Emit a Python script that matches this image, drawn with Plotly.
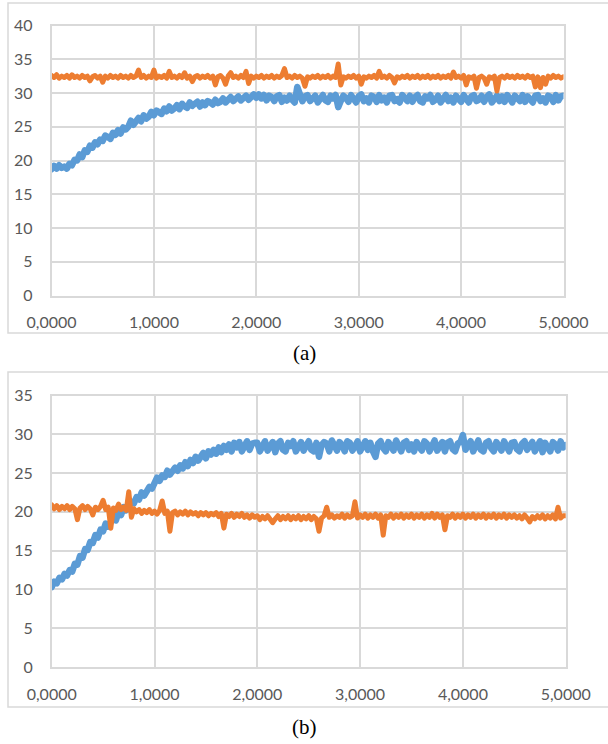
import plotly.graph_objects as go

# sample positions (time axis)
x_step = 0.025
x_vals = [round(i * x_step, 4) for i in range(201)]

# chart (a)
a_blue = [
    18.7,19.2,18.8,19.3,18.9,19.1,18.8,19.5,19.3,20.1,20.0,20.9,20.5,21.5,21.3,22.2,21.9,22.7,22.4,23.1,
    22.9,23.7,23.5,23.2,24.1,23.8,24.5,24.0,24.9,24.6,25.0,25.9,25.3,25.8,26.3,25.8,26.7,26.2,26.5,27.2,
    26.7,27.4,27.2,26.9,27.7,27.3,28.0,27.4,27.7,28.2,27.6,28.4,28.0,27.8,28.6,28.1,28.4,28.7,28.0,28.6,
    28.2,28.8,28.6,28.3,29.0,28.5,28.7,29.2,28.6,29.0,29.4,28.8,29.1,29.5,28.9,29.3,29.6,29.0,29.4,29.8,
    29.3,29.8,29.2,29.7,28.9,29.6,29.4,28.8,29.5,29.7,28.7,29.3,28.9,29.6,29.0,28.6,30.9,29.4,28.8,29.5,
    29.7,28.8,29.1,29.6,28.6,29.4,29.7,28.9,28.7,29.6,29.2,29.7,27.9,28.8,29.6,29.3,28.7,29.7,29.0,28.6,
    29.5,29.8,28.8,29.2,28.6,29.6,29.4,28.7,29.7,28.9,29.3,28.6,29.6,29.7,28.8,29.1,28.6,29.7,29.3,28.8,
    29.6,28.7,29.4,29.7,28.8,28.6,29.5,29.2,29.7,28.7,29.0,29.6,28.6,29.4,29.7,28.8,29.3,28.6,29.6,29.1,
    28.7,29.7,29.2,28.6,29.5,29.7,28.8,29.0,29.6,28.7,29.4,29.8,28.6,29.1,29.6,28.8,29.5,28.7,29.7,29.2,
    28.6,29.6,29.3,28.8,29.7,28.7,29.5,29.1,28.6,29.6,29.7,28.8,29.2,28.6,29.6,29.4,28.7,29.7,28.9,29.5,
    29.6,
]
a_orange = [
    32.6,32.3,32.7,32.2,32.5,32.3,32.6,32.2,32.7,32.3,32.5,32.2,32.6,32.3,32.5,31.8,32.4,32.6,32.2,32.5,
    31.6,32.5,32.2,32.6,32.3,32.5,32.2,32.6,32.3,32.5,32.2,32.6,32.3,32.5,33.4,32.3,32.6,32.2,32.5,32.3,
    33.4,32.2,32.5,32.3,32.6,32.2,33.2,32.3,32.5,32.2,32.6,32.3,33.0,32.2,32.5,31.7,32.4,32.6,32.2,32.5,
    32.3,32.6,32.2,32.5,31.2,32.4,32.6,32.2,31.3,32.5,33.0,32.3,32.5,32.2,32.6,32.3,33.2,31.4,32.5,32.2,
    32.5,32.3,32.6,32.2,32.5,32.3,32.6,32.2,32.5,32.3,32.6,33.6,32.3,32.5,32.2,32.6,32.3,32.5,32.2,31.0,
    32.4,32.2,32.5,32.3,32.6,32.2,32.5,32.3,32.6,32.2,32.5,32.3,34.3,31.2,32.4,32.2,32.5,32.3,32.6,32.2,
    32.5,31.3,32.4,32.2,32.5,32.3,32.6,32.2,33.2,32.3,32.5,32.2,32.6,32.3,31.5,32.4,32.2,32.5,32.3,32.6,
    32.2,32.5,32.3,32.6,32.2,32.5,32.3,32.6,32.2,32.5,32.3,32.6,32.2,32.5,32.3,32.6,32.2,33.1,32.3,32.5,
    32.2,32.6,31.2,32.4,32.2,32.5,30.7,32.3,32.5,32.2,31.3,32.4,32.2,32.5,30.3,32.3,32.5,32.2,32.6,32.3,
    32.5,32.2,32.6,32.3,32.5,32.2,32.6,32.3,32.5,30.9,32.4,30.8,32.3,31.3,32.5,32.2,32.6,32.3,32.5,32.2,
    32.4,
]

# chart (b)
b_blue = [
    10.3,11.0,10.8,11.5,11.3,12.0,11.8,12.5,12.3,13.3,13.2,14.3,14.1,15.2,15.1,16.1,16.0,17.0,16.7,17.7,
    17.5,18.5,18.1,18.9,19.3,18.9,20.0,19.6,20.6,20.2,20.7,21.3,21.1,21.9,21.6,22.5,22.1,22.9,23.2,23.0,
    23.6,24.4,24.0,24.7,24.5,25.3,24.8,25.2,25.7,25.3,26.0,25.6,26.4,25.9,26.7,26.3,27.1,26.6,27.2,27.6,
    26.9,27.8,27.4,28.0,27.5,28.3,27.7,28.5,28.0,28.7,27.8,28.9,28.3,29.0,27.8,28.6,29.1,28.0,28.8,28.9,
    28.9,27.8,28.6,29.1,27.9,28.4,29.0,27.7,28.8,29.1,28.0,27.8,28.9,28.5,29.1,27.8,28.3,29.0,27.9,28.7,
    29.1,28.0,27.8,28.9,27.1,28.6,29.0,28.8,27.8,29.2,28.3,27.9,29.0,28.6,27.8,29.1,28.9,27.9,28.4,29.1,
    27.8,28.7,29.1,28.0,28.9,27.8,27.1,28.8,29.1,28.2,27.8,29.0,28.6,27.9,29.2,28.4,27.8,28.9,29.1,28.0,
    28.7,27.8,29.0,28.4,27.9,29.1,28.8,27.8,28.5,29.2,27.9,28.6,29.0,27.8,28.9,29.1,28.1,27.8,28.8,29.0,
    29.9,28.0,28.7,29.1,27.8,28.5,29.2,28.0,27.8,28.9,29.1,28.2,27.8,29.0,28.6,27.9,29.1,28.4,27.8,28.9,
    29.0,28.1,27.8,28.8,29.1,28.0,28.6,29.0,27.8,28.4,29.1,27.7,28.9,28.3,27.8,29.0,28.7,27.9,29.1,28.3,
    28.6,
]
b_orange = [
    20.9,20.4,20.8,20.3,20.7,20.4,20.8,20.3,20.7,20.4,19.0,20.5,20.8,20.3,20.7,20.4,19.6,20.6,20.3,20.7,
    21.5,20.3,20.6,17.9,20.5,20.2,21.0,20.3,20.6,20.2,22.6,19.3,20.4,20.0,20.3,19.8,20.2,19.9,20.3,19.8,
    20.1,19.7,20.2,21.4,19.8,20.1,17.5,19.9,20.1,19.6,20.0,19.7,20.1,19.6,20.0,19.7,19.9,19.5,19.9,19.6,
    19.9,19.5,19.8,19.6,19.9,19.4,19.8,17.9,19.7,19.4,19.8,19.3,19.7,19.4,19.8,19.3,19.6,19.2,19.6,19.3,
    19.5,19.0,19.4,19.1,19.5,19.0,18.6,19.1,19.5,19.0,19.4,19.1,19.5,19.0,19.4,19.1,19.5,19.0,19.4,19.1,
    19.5,19.0,19.4,19.1,17.5,19.2,19.5,20.6,19.3,19.6,19.2,19.5,19.3,19.7,19.2,19.6,19.3,19.5,21.3,19.2,
    19.6,19.3,19.7,19.2,19.6,19.3,19.7,19.2,19.6,17.0,19.5,19.3,19.7,19.2,19.6,19.3,19.7,19.2,19.6,19.3,
    19.7,19.2,19.6,19.3,19.7,19.2,19.6,19.3,19.8,19.2,19.7,19.3,19.6,17.7,19.5,19.3,19.7,19.2,19.6,19.3,
    19.7,19.2,19.6,19.3,19.7,19.2,19.6,19.3,19.7,19.2,19.6,19.3,19.7,19.2,19.6,19.3,19.7,19.2,19.6,19.3,
    19.6,19.2,19.5,19.1,19.6,19.2,18.7,19.4,19.1,19.5,19.2,19.6,19.1,19.5,19.2,19.6,19.1,20.6,19.2,19.5,
    19.5,
]

x_ticks = [0, 1, 2, 3, 4, 5]
y_ticks_a = [0, 5, 10, 15, 20, 25, 30, 35, 40]
y_ticks_b = [0, 5, 10, 15, 20, 25, 30, 35]
captions = ["(a)", "(b)"]

BLUE = "#5B9BD5"
ORANGE = "#ED7D31"
GRID = "#d9d9d9"
TICK_FONT = dict(family="Lato, 'Open Sans', sans-serif", size=16, color="#595959")
W, H = 608, 744

fig = go.Figure()
blue_line = dict(color=BLUE, width=6.5)
orange_line = dict(color=ORANGE, width=5)
fig.add_trace(go.Scatter(x=x_vals, y=a_blue, mode="lines", line=blue_line, xaxis="x", yaxis="y", showlegend=False))
fig.add_trace(go.Scatter(x=x_vals, y=a_orange, mode="lines", line=orange_line, xaxis="x", yaxis="y", showlegend=False))
fig.add_trace(go.Scatter(x=x_vals, y=b_blue, mode="lines", line=blue_line, xaxis="x2", yaxis="y2", showlegend=False))
fig.add_trace(go.Scatter(x=x_vals, y=b_orange, mode="lines", line=orange_line, xaxis="x2", yaxis="y2", showlegend=False))

def xax(domain, anchor):
    return dict(domain=domain, anchor=anchor, range=[0, 5], tickvals=x_ticks, tickformat=".4f",
                showgrid=True, gridcolor=GRID, gridwidth=1.5, zeroline=False,
                showline=True, linecolor=GRID, linewidth=1.5, mirror=True, automargin=False,
                ticks="", tickfont=TICK_FONT, ticklabelstandoff=12, fixedrange=True)

def yax(domain, anchor, rng, ticks):
    return dict(domain=domain, anchor=anchor, range=rng, tickvals=ticks,
                showgrid=True, gridcolor=GRID, gridwidth=1.5, zeroline=False,
                showline=True, linecolor=GRID, linewidth=1.5, mirror=True, automargin=False,
                ticks="", tickfont=TICK_FONT, ticklabelstandoff=14, fixedrange=True)

fig.update_layout(
    width=W, height=H, autosize=False,
    margin=dict(l=0, r=0, t=0, b=0, pad=0),
    paper_bgcolor="white", plot_bgcolor="white",
    separators=",.",
    xaxis=xax([51.5 / W, 563.5 / W], "y"),
    yaxis=yax([1 - 295.5 / H, 1 - 25.5 / H], "x", [0, 40], y_ticks_a),
    xaxis2=xax([51.7 / W, 565.7 / W], "y2"),
    yaxis2=yax([1 - 667 / H, 1 - 395.5 / H], "x2", [0, 35], y_ticks_b),
    shapes=[
        dict(type="rect", xref="paper", yref="paper", x0=8 / W, x1=1.02, y0=1 - 333 / H, y1=1 - 3 / H,
             line=dict(color=GRID, width=1.5), fillcolor="rgba(0,0,0,0)", layer="below"),
        dict(type="rect", xref="paper", yref="paper", x0=8 / W, x1=1.02, y0=1 - 707 / H, y1=1 - 372 / H,
             line=dict(color=GRID, width=1.5), fillcolor="rgba(0,0,0,0)", layer="below"),
    ],
    annotations=[
        dict(text=captions[0], xref="paper", yref="paper", x=0.5, y=1 - 353 / H, xanchor="center", yanchor="middle",
             showarrow=False, font=dict(family="Liberation Serif, Times New Roman, serif", size=21, color="black")),
        dict(text=captions[1], xref="paper", yref="paper", x=0.5, y=1 - 727 / H, xanchor="center", yanchor="middle",
             showarrow=False, font=dict(family="Liberation Serif, Times New Roman, serif", size=21, color="black")),
    ],
)

post = (
    "document.body.style.margin='0';document.body.style.overflow='hidden';"
    "document.querySelectorAll('.js-line').forEach(function(p){p.style.strokeLinejoin='round';p.style.strokeLinecap='round';});"
)
fig.write_html("out.html", config={"displayModeBar": False}, post_script=post)
